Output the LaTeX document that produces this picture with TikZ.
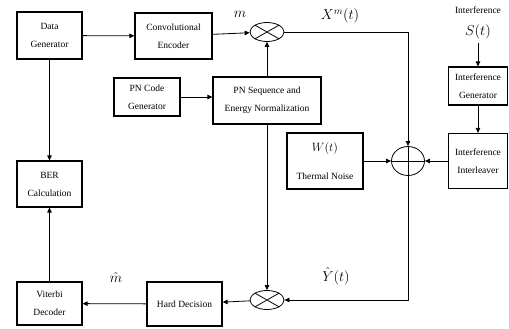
\documentclass[tikz,border=0pt]{standalone}
\usepackage{fontspec}
\setmainfont{Liberation Serif}
\usetikzlibrary{shapes.geometric,arrows.meta,positioning,calc}

\begin{document}
\begin{tikzpicture}[
    x=1pt, y=-1pt,
    block/.style={draw, line width=1.2pt, align=center, font=\fontsize{9.5}{18}\selectfont, inner sep=2pt},
    mult/.style={draw, ellipse, line width=0.8pt, minimum width=34pt, minimum height=19pt, inner sep=0pt},
    summ/.style={draw, ellipse, line width=0.8pt, minimum width=33pt, minimum height=29pt, inner sep=0pt},
    sym/.style={font=\fontsize{14}{16}\selectfont},
    note/.style={font=\fontsize{9.5}{12}\selectfont},
    sig/.style={line width=0.8pt, -{Triangle[length=5pt,width=4.5pt]}}
]
\useasboundingbox (0,0) rectangle (509,329);

% ===== TRANSMITTER =====
\node[block, minimum width=65pt, minimum height=47pt] (gen) at (49.5,35.5) {Data\\Generator};
\node[block, minimum width=77pt, minimum height=46pt] (enc) at (173.5,36) {Convolutional\\Encoder};
\node[block, minimum width=66pt, minimum height=38pt] (pncode) at (147,97) {PN Code\\Generator};
\node[block, minimum width=108pt, minimum height=47pt] (pnseq) at (267,100.5) {PN Sequence and\\Energy Normalization};
\node[mult] (mul1) at (267,32) {};
\draw[line width=0.8pt] (mul1.north west) -- (mul1.south east) (mul1.north east) -- (mul1.south west);
\node[sym] (mlbl) at (240,14) {$m$};
\node[sym] (xlbl) at (340,16) {$X^{m}(t)$};

% ===== CHANNEL =====
\node[note] (ilbl) at (478,10) {Interference};
\node[sym] (slbl) at (478,32) {$S(t)$};
\node[block, minimum width=59pt, minimum height=38pt] (igen) at (478,86) {Interference\\Generator};
\node[block, minimum width=59pt, minimum height=55pt] (ileave) at (478,161) {Interference\\Interleaver};
\node[block, minimum width=76pt, minimum height=56pt] (noise) at (325,161) {{\fontsize{12}{14}\selectfont$W(t)$}\\[10pt]Thermal Noise};
\node[summ] (add) at (408,161) {};
\draw[line width=0.8pt] (add.north) -- (add.south) (add.west) -- (add.east);

% ===== RECEIVER =====
\node[mult] (mul2) at (267,300) {};
\draw[line width=0.8pt] (mul2.north west) -- (mul2.south east) (mul2.north east) -- (mul2.south west);
\node[sym] (yhat) at (336,276) {$\hat{Y}(t)$};
\node[block, minimum width=75pt, minimum height=44pt] (hard) at (184.5,304) {Hard Decision};
\node[sym] (mhat) at (116,277) {$\hat{m}$};
\node[block, minimum width=65pt, minimum height=43pt] (vit) at (49.5,303.5) {Viterbi\\Decoder};
\node[block, minimum width=65pt, minimum height=46pt] (ber) at (49.5,184) {BER\\Calculation};

% ===== CONNECTIONS =====
\draw[sig] (gen) -- (enc);
\draw[sig] (enc) -- (mul1);
\draw[sig] (pncode.east) -- (pncode.east -| pnseq.west);
\draw[sig] (pnseq) -- (mul1);
\draw[sig] (mul1.east) -| (add.north);
\draw[sig] (slbl) -- (igen);
\draw[sig] (igen) -- (ileave);
\draw[sig] (noise) -- (add);
\draw[sig] (ileave) -- (add);
\draw[sig] (add.south) |- (mul2.east);
\draw[sig] (pnseq) -- (mul2);
\draw[sig] (mul2) -- (hard);
\draw[sig] (hard) -- (vit);
\draw[sig] (vit) -- (ber);
\draw[sig] (gen) -- (ber);

\end{tikzpicture}
\end{document}
